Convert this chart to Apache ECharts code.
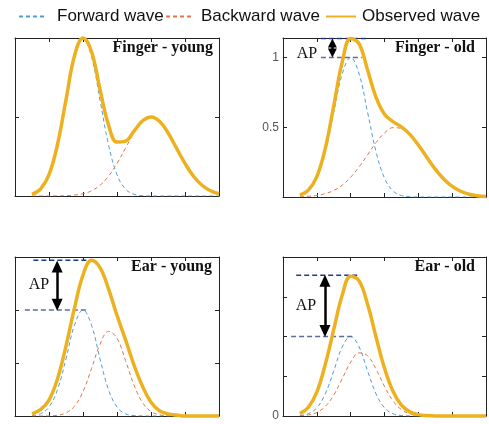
<!DOCTYPE html>
<html>
<head>
<meta charset="utf-8">
<script src="https://cdn.jsdelivr.net/npm/echarts@6/dist/echarts.min.js"></script>
<style>
html, body { margin: 0; padding: 0; background: #fff; }
#waveArea { width: 489px; height: 424px; }
</style>
</head>
<body>
<div id="waveArea"></div>
<script>
// sample positions (time axis, same for all four panels)
const xs = [0.5, 0.75, 1.0, 1.25, 1.5, 1.75, 2.0, 2.25, 2.5, 2.75, 3.0, 3.25, 3.5, 3.75, 4.0, 4.25, 4.5, 4.75, 5.0, 5.25, 5.5, 5.75, 6.0]

// Finger - young
const fingerYoungForward = [0.011, 0.044, 0.135, 0.325, 0.607, 0.882, 1.0, 0.882, 0.607, 0.325, 0.135, 0.044, 0.011, 0.002, 0, 0, 0, 0, 0, 0, 0, 0, 0]
const fingerYoungBackward = [0, 0, 0, 0.001, 0.002, 0.006, 0.014, 0.033, 0.068, 0.125, 0.206, 0.303, 0.400, 0.473, 0.500, 0.473, 0.400, 0.303, 0.206, 0.125, 0.068, 0.033, 0.014]
const fingerYoungObserved = [0.011, 0.044, 0.135, 0.326, 0.609, 0.888, 1.0, 0.915, 0.675, 0.450, 0.341, 0.347, 0.411, 0.475, 0.500, 0.473, 0.400, 0.303, 0.206, 0.125, 0.068, 0.033, 0.014]

// Finger - old
const fingerOldForward = [0.011, 0.044, 0.135, 0.325, 0.607, 0.882, 1.0, 0.882, 0.607, 0.325, 0.135, 0.044, 0.011, 0.002, 0, 0, 0, 0, 0, 0, 0, 0, 0]
const fingerOldBackward = [0.002, 0.005, 0.011, 0.024, 0.047, 0.085, 0.142, 0.216, 0.303, 0.390, 0.459, 0.497, 0.492, 0.447, 0.373, 0.285, 0.200, 0.129, 0.076, 0.041, 0.020, 0.009, 0.004]
const fingerOldObserved = [0.013, 0.049, 0.146, 0.349, 0.654, 0.967, 1.136, 1.098, 0.910, 0.715, 0.594, 0.541, 0.503, 0.449, 0.373, 0.285, 0.200, 0.129, 0.076, 0.041, 0.020, 0.009, 0.004]

// Ear - young
const earYoungForward = [0.004, 0.021, 0.085, 0.249, 0.539, 0.857, 1.0, 0.857, 0.539, 0.249, 0.085, 0.021, 0.004, 0.001, 0, 0, 0, 0, 0, 0, 0, 0, 0]
const earYoungBackward = [0, 0, 0.001, 0.007, 0.029, 0.092, 0.230, 0.447, 0.676, 0.798, 0.733, 0.524, 0.292, 0.127, 0.043, 0.011, 0.002, 0, 0, 0, 0, 0, 0]
const earYoungObserved = [0.02, 0.06, 0.15, 0.35, 0.66, 1.02, 1.33, 1.47, 1.40, 1.20, 0.95, 0.72, 0.48, 0.28, 0.13, 0.05, 0.02, 0.01, 0, 0, 0, 0, 0]

// Ear - old
const earOldForward = [0.006, 0.029, 0.103, 0.279, 0.567, 0.868, 1.0, 0.868, 0.567, 0.279, 0.103, 0.029, 0.006, 0.001, 0, 0, 0, 0, 0, 0, 0, 0, 0]
const earOldBackward = [0.003, 0.014, 0.045, 0.121, 0.263, 0.468, 0.676, 0.794, 0.758, 0.589, 0.373, 0.191, 0.080, 0.027, 0.008, 0.002, 0, 0, 0, 0, 0, 0, 0]
const earOldObserved = [0.03, 0.11, 0.30, 0.65, 1.09, 1.52, 1.757, 1.70, 1.405, 0.993, 0.60, 0.31, 0.137, 0.052, 0.017, 0.005, 0, 0, 0, 0, 0, 0, 0]

// augmentation pressure: [peak, base] of each panel (finger-young has none)
const apFingerOld = [1.136, 1.0]
const apEarYoung = [1.47, 1.0]
const apEarOld = [1.77, 1.0]

const legendNames = ['Forward wave', 'Backward wave', 'Observed wave']
const fwdColor = '#4f9dd6'
const bwdColor = '#e0764a'
const obsColor = '#EDB120'

// panel layout + which data goes where
const panels = [
  { title: 'Finger - young', grid: { left: 15, top: 38, width: 204, height: 158 }, yMax: 1.0, labels: [],
    fwd: fingerYoungForward, bwd: fingerYoungBackward, obs: fingerYoungObserved, titleRight: 276, titleTop: 40 },
  { title: 'Finger - old', grid: { left: 283, top: 38, width: 203, height: 159 }, yMax: 1.14, labels: [0.5, 1],
    fwd: fingerOldForward, bwd: fingerOldBackward, obs: fingerOldObserved, titleRight: 14, titleTop: 40,
    ap: apFingerOld, apTop: [1.12, 2.46], apBase: [1.12, 2.33], arrowX: 1.46, arrowIn: [0.032, 0.032], arrowSize: [9, 9],
    apText: [307, 54] },
  { title: 'Ear - young', grid: { left: 15, top: 257, width: 204, height: 159 }, yMax: 1.5, labels: [],
    fwd: earYoungForward, bwd: earYoungBackward, obs: earYoungObserved, titleRight: 277, titleTop: 259,
    ap: apEarYoung, apTop: [0.54, 2.35], apBase: [0.29, 2.14], arrowX: 1.24, arrowIn: [0.06, 0.05], arrowSize: [11, 12],
    apText: [39, 285] },
  { title: 'Ear - old', grid: { left: 283, top: 257, width: 203, height: 159 }, yMax: 2.0, labels: [0],
    fwd: earOldForward, bwd: earOldBackward, obs: earOldObserved, titleRight: 14, titleTop: 259,
    ap: apEarOld, apTop: [0.39, 2.24], apBase: [0.24, 2.08], arrowX: 1.24, arrowIn: [0.07, 0.07], arrowSize: [11, 12],
    apText: [306, 306] }
]

function pairs(ys) {
  return xs.map((x, i) => [x, ys[i]])
}

function axisX(pos, gi) {
  return {
    type: 'value', gridIndex: gi, position: pos, min: 0, max: 6, interval: 1,
    axisLine: { show: true, onZero: false, lineStyle: { color: '#222', width: 1 } },
    axisTick: { show: true, inside: true, length: 4, lineStyle: { color: '#222' } },
    axisLabel: { show: false }, splitLine: { show: false }
  }
}

function axisY(pos, gi, p) {
  return {
    type: 'value', gridIndex: gi, position: pos, min: 0, max: p.yMax, interval: 0.5,
    axisLine: { show: true, onZero: false, lineStyle: { color: '#222', width: 1 } },
    axisTick: { show: true, inside: true, length: 4, lineStyle: { color: '#222' } },
    axisLabel: {
      show: pos === 'left', margin: 4, color: '#555', fontSize: 12,
      fontFamily: '"Liberation Sans Narrow", "Liberation Sans", Arial, sans-serif',
      formatter: v => (p.labels.indexOf(v) >= 0 ? String(v) : '')
    },
    splitLine: { show: false }
  }
}

let grids = [], xAxes = [], yAxes = [], series = [], titles = [], graphics = []

panels.forEach((p, i) => {
  grids.push(p.grid)
  xAxes.push(axisX('bottom', i), axisX('top', i))
  yAxes.push(axisY('left', i, p), axisY('right', i, p))
  const ax = { xAxisIndex: 2 * i, yAxisIndex: 2 * i }

  series.push({
    name: 'Forward wave', type: 'line', ...ax, data: pairs(p.fwd), symbol: 'none', smooth: 0.4,
    lineStyle: { color: fwdColor, width: 1, type: [4, 3] }, itemStyle: { color: fwdColor }, z: 2
  })
  series.push({
    name: 'Backward wave', type: 'line', ...ax, data: pairs(p.bwd), symbol: 'none', smooth: 0.4,
    lineStyle: { color: bwdColor, width: 1, type: [4, 3] }, itemStyle: { color: bwdColor }, z: 2
  })
  series.push({
    name: 'Observed wave', type: 'line', ...ax, data: pairs(p.obs), symbol: 'none', smooth: 0.4, clip: false,
    lineStyle: { color: obsColor, width: 3.5 }, itemStyle: { color: obsColor }, z: 4
  })

  if (p.ap) {
    // dashed guide lines at the peak and at the forward wave height
    series.push({
      type: 'line', ...ax, data: [[p.apTop[0], p.ap[0]], [p.apTop[1], p.ap[0]]], symbol: 'none', silent: true,
      lineStyle: { color: '#1d3a82', width: 1.4, type: [5, 3] }, z: 3,
      markLine: {
        silent: true, symbol: ['triangle', 'triangle'], symbolSize: p.arrowSize, label: { show: false },
        lineStyle: { color: '#000', width: 2.5, type: 'solid' },
        data: [[{ coord: [p.arrowX, p.ap[0] - p.arrowIn[0]] }, { coord: [p.arrowX, p.ap[1] + p.arrowIn[1]] }]]
      }
    })
    series.push({
      type: 'line', ...ax, data: [[p.apBase[0], p.ap[1]], [p.apBase[1], p.ap[1]]], symbol: 'none', silent: true,
      lineStyle: { color: '#5a6e9c', width: 1.4, type: [5, 3] }, z: 3
    })
    graphics.push({
      type: 'text', x: p.apText[0], y: p.apText[1],
      style: { text: 'AP', font: '16px "Liberation Serif", "Times New Roman", serif', fill: '#111', align: 'center', verticalAlign: 'middle' }
    })
  }

  titles.push({
    text: p.title, right: p.titleRight, top: p.titleTop, padding: 0,
    textStyle: { fontFamily: '"Liberation Serif", "Times New Roman", serif', fontWeight: 'bold', fontSize: 16, color: '#111' }
  })
})

// one legend per entry so each can sit where the original puts it
// (symbol dot hidden, only the line sample is wanted)
const legendLeft = [18, 165, 325]
const legendIconW = [27, 27, 30]
const legendGap = [6, 3, 1]
const legends = legendNames.map((n, i) => ({
  data: [n], left: legendLeft[i], top: 8, padding: 0, itemWidth: legendIconW[i], itemHeight: 14,
  selectedMode: false,
  itemStyle: { opacity: 0, borderWidth: 0 },
  textStyle: { fontSize: 17, fontFamily: '"Liberation Sans", Arial, sans-serif', color: '#111', padding: [0, 0, 0, legendGap[i]] }
}))

const option = {
  animation: false,
  backgroundColor: '#fff',
  title: titles,
  legend: legends,
  grid: grids,
  xAxis: xAxes,
  yAxis: yAxes,
  series: series,
  graphic: graphics
}

function initChart(areaName, data) {
  let myChart = echarts.init(document.getElementById(areaName), null, { renderer: 'canvas' })
  data && myChart.setOption(data)
}
initChart('waveArea', option)
</script>
</body>
</html>
